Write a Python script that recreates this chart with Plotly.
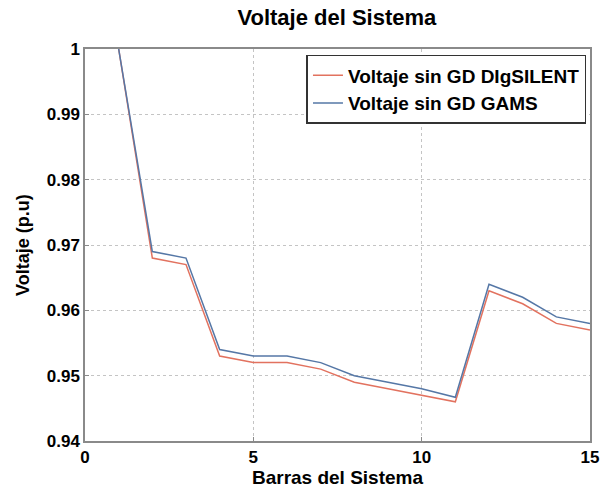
import plotly.graph_objects as go

barras = list(range(1, 16))
v_digsilent = [1.000, 0.968, 0.967, 0.953, 0.952, 0.952, 0.951, 0.949, 0.948, 0.947, 0.946, 0.963, 0.961, 0.958, 0.957]
v_gams = [1.000, 0.969, 0.968, 0.954, 0.953, 0.953, 0.952, 0.950, 0.949, 0.948, 0.9467, 0.964, 0.962, 0.959, 0.958]

x_ticks = [0, 5, 10, 15]
y_ticks = [0.94, 0.95, 0.96, 0.97, 0.98, 0.99, 1.0]
y_tick_text = ["0.94", "0.95", "0.96", "0.97", "0.98", "0.99", "1"]

font_family = "Liberation Sans, Arial, sans-serif"

fig = go.Figure()
fig.add_trace(go.Scatter(x=barras, y=v_digsilent, mode="lines", name="Voltaje sin GD DIgSILENT",
                         line=dict(color="#e2725f", width=1.5)))
fig.add_trace(go.Scatter(x=barras, y=v_gams, mode="lines", name="Voltaje sin GD GAMS",
                         line=dict(color="#5577a6", width=1.5)))

axis_common = dict(showline=True, linecolor="#8a8a8a", linewidth=1.5, mirror=True,
                   showgrid=True, gridcolor="#c4c4c4", griddash="dot", gridwidth=1,
                   ticks="inside", ticklen=4, tickcolor="#8a8a8a", zeroline=False,
                   automargin=False,
                   tickfont=dict(family=font_family, size=17, color="black", weight="bold"))

fig.update_layout(
    width=607, height=488,
    margin=dict(l=85, r=17, t=49, b=47),
    paper_bgcolor="white", plot_bgcolor="white",
    font=dict(family=font_family, color="black"),
    title=dict(text="Voltaje del Sistema", x=0.555, xanchor="center", y=0.965, yanchor="middle",
               font=dict(family=font_family, size=22, color="black", weight="bold")),
    xaxis=dict(range=[0, 15], tickvals=x_ticks,
               title=dict(text="Barras del Sistema", standoff=0,
                          font=dict(family=font_family, size=19, color="black", weight="bold")),
               **axis_common),
    yaxis=dict(range=[0.94, 1.0], tickvals=y_ticks, ticktext=y_tick_text, **axis_common),
    annotations=[dict(text="Voltaje (p.u)", xref="paper", yref="paper", x=-0.123, y=0.5,
                      xanchor="center", yanchor="middle", textangle=-90, showarrow=False,
                      font=dict(family=font_family, size=18, color="black", weight="bold"))],
    legend=dict(x=0.993, y=0.985, xanchor="right", yanchor="top",
                bgcolor="white", bordercolor="#333333", borderwidth=1.5,
                font=dict(family=font_family, size=19, color="black", weight="bold"),
                tracegroupgap=0, itemwidth=30),
)

fig.write_html("out.html", config={"displayModeBar": False},
               post_script="document.body.style.margin='0';")
